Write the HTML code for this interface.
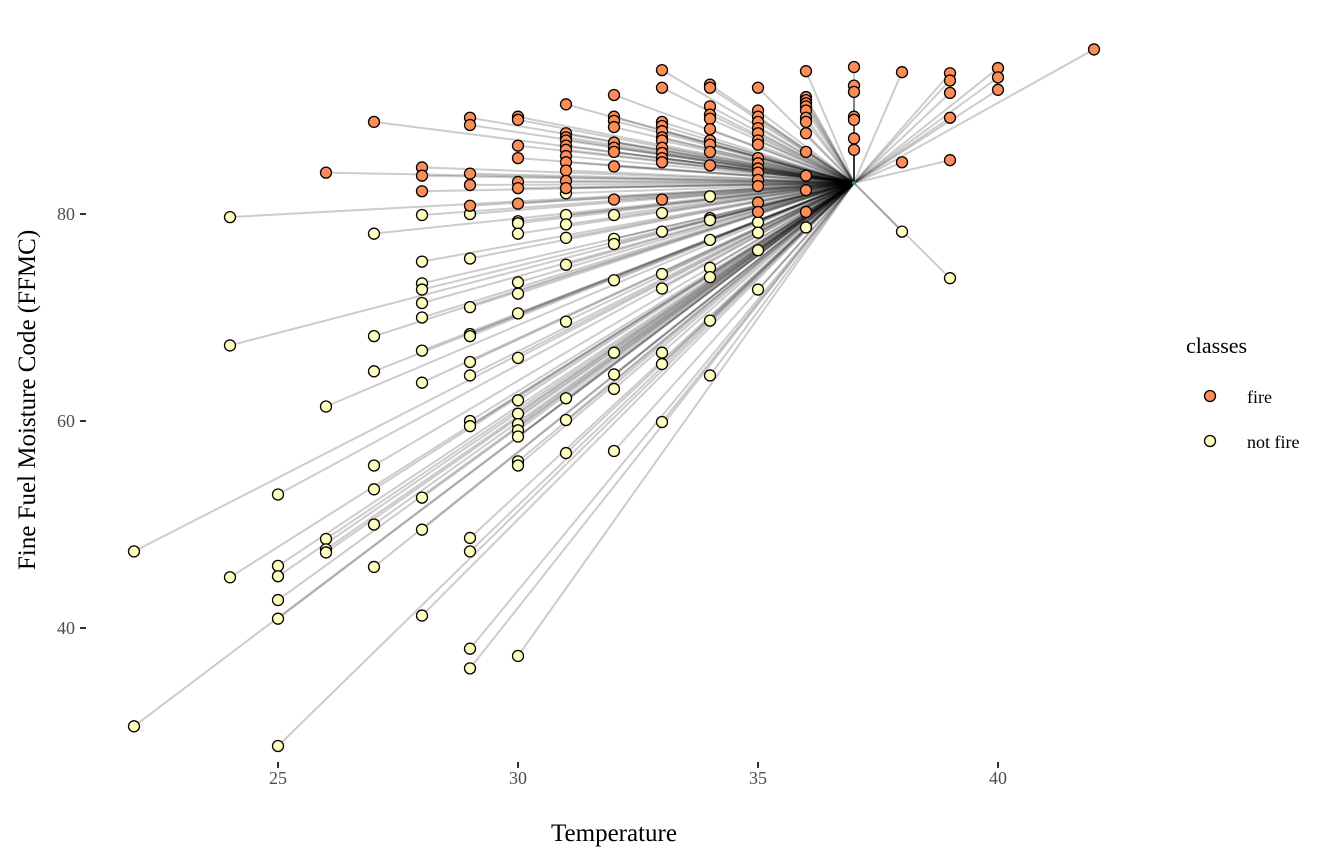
<!DOCTYPE html>
<html><head><meta charset="utf-8"><style>
html,body{margin:0;padding:0;background:#fff;}
svg{display:block;font-family:"Liberation Serif",serif;}
</style></head><body>
<svg id="chart" width="1344" height="864">
<g id="lines"></g>
<g id="pts"></g>
<g id="axes"></g>
<text x="614" y="841" text-anchor="middle" font-size="25" fill="#000">Temperature</text>
<text transform="translate(35,400) rotate(-90)" text-anchor="middle" font-size="25" fill="#000">Fine Fuel Moisture Code (FFMC)</text>
<g>
<text x="1186" y="353" font-size="22">classes</text>
<g><circle cx="1210" cy="396" r="5.5" fill="#fc8d59" stroke="#000" stroke-width="1.3"/><text x="1247" y="403" font-size="18">fire</text></g>
<g><circle cx="1210" cy="441" r="5.5" fill="#ffffbf" stroke="#000" stroke-width="1.3"/><text x="1247" y="448" font-size="18">not fire</text></g>
</g>
</svg>
<script>
const fireTemp=[26,27,28,28,28,29,29,29,29,29,30,30,30,30,30,30,30,31,31,31,31,31,31,31,31,31,31,31,32,32,32,32,32,32,32,32,32,33,33,33,33,33,33,33,33,33,33,33,33,34,34,34,34,34,34,34,34,34,34,35,35,35,35,35,35,35,35,35,35,35,35,35,35,35,35,36,36,36,36,36,36,36,36,36,36,36,36,36,37,37,37,37,37,37,37,38,38,39,39,39,39,39,40,40,40,42];
const fireFFMC=[84.0,88.9,84.5,83.7,82.2,89.3,88.6,83.9,82.8,80.8,89.4,89.1,86.6,85.4,83.1,82.5,81.0,90.6,87.8,87.4,87.1,86.6,86.2,85.6,85.0,84.2,83.2,82.5,91.5,89.4,89.0,88.4,86.9,86.4,86.0,84.6,81.4,93.9,92.2,88.9,88.5,88.0,87.4,87.1,86.4,85.9,85.4,85.0,81.4,92.5,92.2,90.4,89.6,89.2,88.2,87.1,86.7,86.0,84.7,92.2,90.0,89.4,88.9,88.3,87.8,87.1,86.7,85.4,84.9,84.4,84.0,83.3,82.7,81.1,80.2,93.8,91.3,91.0,90.7,90.4,90.0,89.3,88.9,87.8,86.0,83.7,82.3,80.2,94.2,92.4,91.8,89.4,89.1,87.3,86.2,93.7,85.0,93.6,92.9,91.7,89.3,85.2,94.1,93.2,92.0,95.9];
const notTemp=[22,22,24,24,24,25,25,25,25,25,25,26,26,26,26,27,27,27,27,27,27,27,28,28,28,28,28,28,28,28,28,28,28,29,29,29,29,29,29,29,29,29,29,29,29,29,30,30,30,30,30,30,30,30,30,30,30,30,30,30,30,31,31,31,31,31,31,31,31,31,32,32,32,32,32,32,32,32,33,33,33,33,33,33,33,34,34,34,34,34,34,34,34,35,35,35,35,36,38,39];
const notFFMC=[47.4,30.5,79.7,67.3,44.9,52.9,46.0,45.0,42.7,40.9,28.6,61.4,48.6,47.6,47.3,78.1,68.2,64.8,55.7,53.4,50.0,45.9,79.9,75.4,73.3,72.7,71.4,70.0,66.8,63.7,52.6,49.5,41.2,80.0,75.7,71.0,68.4,68.2,65.7,64.4,60.0,59.5,48.7,47.4,38.0,36.1,79.3,79.1,78.1,73.4,72.3,70.4,66.1,62.0,60.7,59.7,59.1,58.5,56.1,55.7,37.3,82.0,79.9,79.0,77.7,75.1,69.6,62.2,60.1,56.9,79.9,77.6,77.1,73.6,66.6,64.5,63.1,57.1,80.1,78.3,74.2,72.8,66.6,65.5,59.9,81.7,79.6,79.4,77.5,74.8,73.9,69.7,64.4,79.2,78.2,76.5,72.7,78.7,78.3,73.8];
const centerPoint=[37,83];
const xTicks=[25,30,35,40];
const yTicks=[40,60,80];
const NS="http://www.w3.org/2000/svg";
const xs=v=>278+(v-25)*48;
const ys=v=>214+(80-v)*10.35;
const L=document.getElementById('lines'),P=document.getElementById('pts'),A=document.getElementById('axes');
const cx=xs(centerPoint[0]),cy=ys(centerPoint[1]);
function addLine(t,f){const l=document.createElementNS(NS,'line');


l.setAttribute('x1',xs(t));l.setAttribute('y1',ys(f));l.setAttribute('x2',cx);l.setAttribute('y2',cy);
l.setAttribute('stroke','rgba(0,0,0,0.2)');l.setAttribute('stroke-width','2');L.appendChild(l);}
function addPt(t,f,c,n){const p=document.createElementNS(NS,'circle');


p.setAttribute('cx',xs(t));p.setAttribute('cy',ys(f));p.setAttribute('r','5.5');p.setAttribute('fill',c);p.setAttribute('stroke','#000');p.setAttribute('stroke-width','1.3');P.appendChild(p);}
fireTemp.forEach((t,i)=>addLine(t,fireFFMC[i]));
notTemp.forEach((t,i)=>addLine(t,notFFMC[i]));
notTemp.forEach((t,i)=>addPt(t,notFFMC[i],'#ffffbf','point-not-fire'));
fireTemp.forEach((t,i)=>addPt(t,fireFFMC[i],'#fc8d59','point-fire'));
const c=document.createElementNS(NS,'circle');


c.setAttribute('cx',cx);c.setAttribute('cy',cy);c.setAttribute('r','2');c.setAttribute('fill','#1a9850');P.appendChild(c);
xTicks.forEach(v=>{const t=document.createElementNS(NS,'line');


t.setAttribute('x1',xs(v));t.setAttribute('x2',xs(v));t.setAttribute('y1',762);t.setAttribute('y2',768);t.setAttribute('stroke','#333');t.setAttribute('stroke-width','2');A.appendChild(t);
const s=document.createElementNS(NS,'text');


s.setAttribute('x',xs(v));s.setAttribute('y',784);s.setAttribute('text-anchor','middle');s.setAttribute('font-size','18');s.setAttribute('fill','#4d4d4d');s.textContent=v;A.appendChild(s);});
yTicks.forEach(v=>{const t=document.createElementNS(NS,'line');


t.setAttribute('x1',80);t.setAttribute('x2',86);t.setAttribute('y1',ys(v));t.setAttribute('y2',ys(v));t.setAttribute('stroke','#333');t.setAttribute('stroke-width','2');A.appendChild(t);
const s=document.createElementNS(NS,'text');


s.setAttribute('x',75);s.setAttribute('y',ys(v)+6);s.setAttribute('text-anchor','end');s.setAttribute('font-size','18');s.setAttribute('fill','#4d4d4d');s.textContent=v;A.appendChild(s);});
</script>
</body></html>
